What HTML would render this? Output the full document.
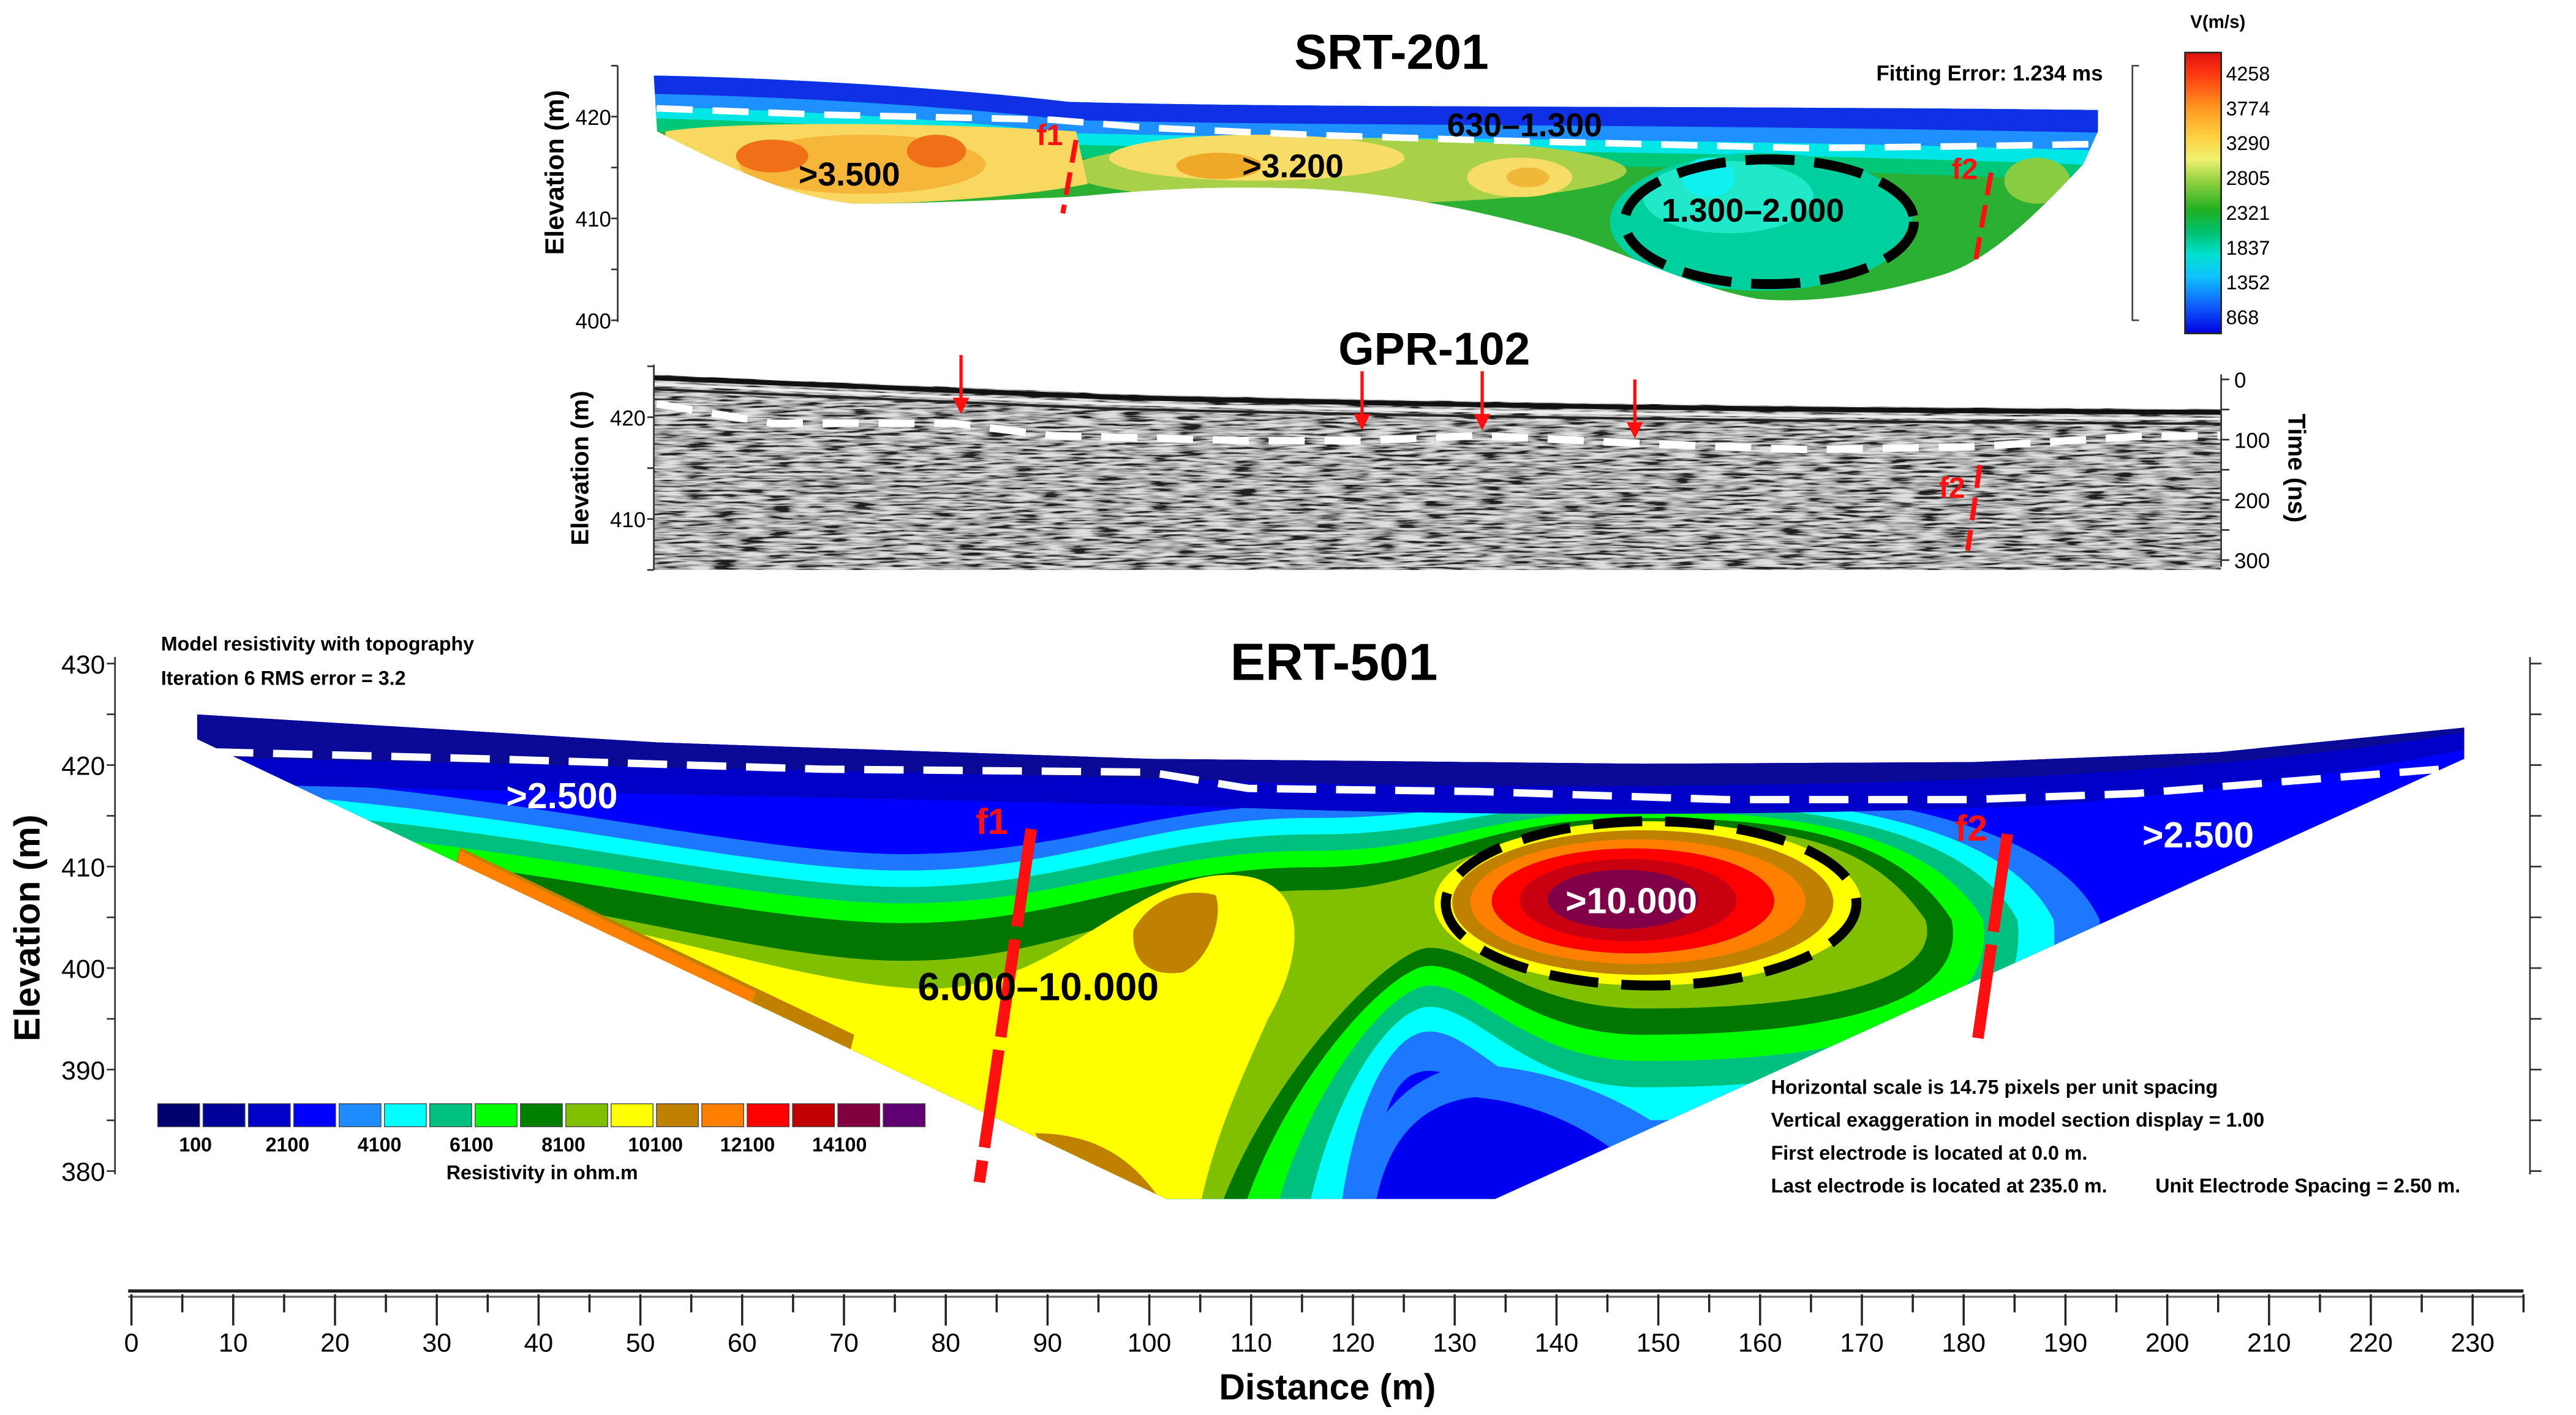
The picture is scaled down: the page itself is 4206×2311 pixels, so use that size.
<!DOCTYPE html>
<html><head><meta charset="utf-8"><title>SRT / GPR / ERT sections</title>
<style>
html,body{margin:0;padding:0;background:#fff;}
svg{display:block;}
text{font-family:"Liberation Sans Narrow","Liberation Sans",sans-serif;}
.b{font-weight:bold;}
</style></head>
<body>
<svg id="fig" xmlns="http://www.w3.org/2000/svg" width="4206" height="2311" viewBox="0 0 1568 861.5" preserveAspectRatio="none">
<defs>
  <clipPath id="ertClip"><path d="M120,435 L400,452 L700,462 L1000,465 L1200,464 L1350,458 L1500,443 L1500,462 L910,730 L710,730 L120,450 Z"/></clipPath>
  <clipPath id="srtClip"><path d="M398,46 C500,48 600,56 650,62 C800,66 1000,64 1277,67 L1277,80 L1268,100 C1240,130 1210,160 1180,168 C1140,180 1100,185 1070,182 C1030,175 980,150 950,142 C900,128 850,118 800,115 C720,112 680,118 650,120 C600,122 560,124 520,124 C480,120 440,100 410,85 L400,80 Z"/></clipPath>
  <clipPath id="gprClip"><path d="M398,228 C500,233 600,236 680,240 C900,245 1100,248 1352,249 L1352,347 L398,347 Z"/></clipPath>
  <filter id="noise" x="0" y="0" width="100%" height="100%">
    <feTurbulence type="fractalNoise" baseFrequency="0.06 0.7" numOctaves="2" seed="4"/>
    <feColorMatrix type="matrix" values="3 0 0 0 -1  3 0 0 0 -1  3 0 0 0 -1  0 0 0 0 1"/>
  </filter>
  <linearGradient id="vgrad" x1="0" y1="0" x2="0" y2="1">
    <stop offset="0" stop-color="#e01010"/>
    <stop offset="0.08" stop-color="#ff3a10"/>
    <stop offset="0.2" stop-color="#ff9a20"/>
    <stop offset="0.3" stop-color="#ffd040"/>
    <stop offset="0.38" stop-color="#f0f070"/>
    <stop offset="0.46" stop-color="#90d040"/>
    <stop offset="0.56" stop-color="#20b020"/>
    <stop offset="0.64" stop-color="#00c070"/>
    <stop offset="0.72" stop-color="#00e0d0"/>
    <stop offset="0.8" stop-color="#10c0ff"/>
    <stop offset="0.9" stop-color="#1060ff"/>
    <stop offset="1" stop-color="#0000e0"/>
  </linearGradient>
</defs>

<!-- ================= SRT ================= -->
<g id="srt">
  <text class="b" x="847" y="42" font-size="30" text-anchor="middle">SRT-201</text>
  <text x="1280" y="49" font-size="13" text-anchor="end" class="b">Fitting Error: 1.234 ms</text>
  <g clip-path="url(#srtClip)">
    <rect x="390" y="30" width="900" height="170" fill="#2cb034"/>
    <path d="M390,30 L1290,30 L1290,111 C1000,98 800,100 650,96 C600,90 500,82 390,80 Z" fill="#00c878"/>
    <path d="M390,30 L1290,30 L1290,101 C1000,90 800,92 650,88 C600,82 500,74 390,72 Z" fill="#00e6e6"/>
    <path d="M390,30 L1290,30 L1290,92 C1000,83 800,85 650,81 C600,75 500,67 390,65 Z" fill="#1e90ff"/>
    <path d="M390,30 L1290,30 L1290,81 C1000,75 800,77 650,73 C600,67 500,59 390,57 Z" fill="#1030e6"/>
    <ellipse cx="820" cy="104" rx="170" ry="20" fill="#a8d048"/>
    <path d="M405,80 C440,74 560,74 655,80 L662,112 C620,120 560,124 520,124 C470,120 430,100 405,86 Z" fill="#f8d860"/>
    <ellipse cx="525" cy="100" rx="75" ry="18" fill="#f6b63a"/>
    <ellipse cx="470" cy="95" rx="22" ry="10" fill="#f07018"/>
    <ellipse cx="570" cy="92" rx="18" ry="10" fill="#f07018"/>
    <ellipse cx="765" cy="96" rx="90" ry="14" fill="#f8dc68"/>
    <ellipse cx="742" cy="101" rx="26" ry="8" fill="#f0a828"/>
    <ellipse cx="925" cy="108" rx="32" ry="12" fill="#f8dc68"/>
    <ellipse cx="930" cy="108" rx="13" ry="6" fill="#f0b838"/>
    <ellipse cx="1072" cy="135" rx="92" ry="42" fill="#00d0a0"/>
    <ellipse cx="1052" cy="120" rx="52" ry="22" fill="#20e8c8"/>
    <ellipse cx="1040" cy="108" rx="16" ry="12" fill="#10f0f0"/>
    <ellipse cx="1240" cy="110" rx="20" ry="14" fill="#88cc40"/>
  </g>
  <g id="srtOver"></g>
  <text class="b" x="517" y="113" font-size="20" text-anchor="middle">&gt;3.500</text>
  <text class="b" x="787" y="108" font-size="20" text-anchor="middle">&gt;3.200</text>
  <text class="b" x="928" y="83" font-size="20" text-anchor="middle">630–1.300</text>
  <text class="b" x="1067" y="135" font-size="20" text-anchor="middle">1.300–2.000</text>
  <ellipse cx="1077" cy="135" rx="88" ry="38" fill="none" stroke="#000" stroke-width="6" stroke-dasharray="30 12"/>
  <text class="b" x="1350" y="17" font-size="11" text-anchor="middle">V(m/s)</text>
  <rect x="1330" y="32" width="22" height="171" fill="url(#vgrad)" stroke="#222" stroke-width="1"/>
  <path d="M1302,40 L1298,40 L1298,195 L1302,195" fill="none" stroke="#444" stroke-width="1"/>
</g>

<!-- ================= GPR ================= -->
<g id="gpr">
  <text class="b" x="873" y="222" font-size="28" text-anchor="middle">GPR-102</text>
  <g clip-path="url(#gprClip)">
    <rect x="398" y="220" width="954" height="130" fill="#808080"/>
    <rect x="398" y="220" width="954" height="130" filter="url(#noise)" opacity="0.75"/>
    <path d="M398,230 C500,235 600,238 680,242 C900,247 1100,250 1352,251" fill="none" stroke="#111" stroke-width="3"/>
    <path d="M398,234 C500,239 600,242 680,246 C900,251 1100,254 1352,255" fill="none" stroke="#eee" stroke-width="1.5"/>
    <path d="M398,237 C500,242 600,245 680,249 C900,254 1100,257 1352,258" fill="none" stroke="#222" stroke-width="1.5"/>
  </g>
  <text class="b" x="1393" y="285" font-size="15" text-anchor="middle" transform="rotate(90 1393 285)">Time (ns)</text>
</g>

<!-- ================= ERT ================= -->
<g id="ert">
  <text class="b" x="812" y="414" font-size="32" text-anchor="middle">ERT-501</text>
  <text class="b" x="98" y="396" font-size="12">Model resistivity with topography</text>
  <text class="b" x="98" y="417" font-size="12">Iteration 6 RMS error = 3.2</text>
  <g clip-path="url(#ertClip)" id="ertSection">
    <rect x="90" y="420" width="1430" height="320" fill="#0000ff"/>
  </g>
  <g id="ertOver"></g>
  <text class="b" x="342" y="492" font-size="22" fill="#fff" text-anchor="middle">&gt;2.500</text>
  <text class="b" x="1338" y="516" font-size="22" fill="#fff" text-anchor="middle">&gt;2.500</text>
  <text class="b" x="632" y="609" font-size="24" text-anchor="middle">6.000–10.000</text>
  <text class="b" x="993" y="556" font-size="22" fill="#fff" text-anchor="middle">&gt;10.000</text>
  <ellipse cx="1005" cy="550" rx="125" ry="50" fill="none" stroke="#000" stroke-width="6" stroke-dasharray="30 14"/>
  <g id="legend"></g>
  <text class="b" x="330" y="718" font-size="12" text-anchor="middle">Resistivity in ohm.m</text>
  <text class="b" x="1078" y="666" font-size="12">Horizontal scale is 14.75 pixels per unit spacing</text>
  <text class="b" x="1078" y="686" font-size="12">Vertical exaggeration in model section display = 1.00</text>
  <text class="b" x="1078" y="706" font-size="12">First electrode is located at 0.0  m.</text>
  <text class="b" x="1078" y="726" font-size="12">Last electrode is located at 235.0 m.</text>
  <text class="b" x="1312" y="726" font-size="12">Unit Electrode Spacing = 2.50 m.</text>
</g>
<g id="axes"></g>
<text class="b" x="808" y="852" font-size="22" text-anchor="middle">Distance (m)</text>
</svg>

<script>
// ---------- data ----------
const distTicks = [0,10,20,30,40,50,60,70,80,90,100,110,120,130,140,150,160,170,180,190,200,210,220,230];
const ertElevTicks = [430,420,410,400,390,380];
const srtElevTicks = [420,410,400];
const gprElevTicks = [420,410];
const gprTimeTicks = [0,100,200,300];
const velTicks = ["4258","3774","3290","2805","2321","1837","1352","868"];
const legendLabels = ["100","2100","4100","6100","8100","10100","12100","14100"];
const legendColors = ["#00006e","#00009a","#0000c8","#0000ff","#1e8cff","#00ffff","#00c080","#00ff00","#008000","#80c000","#ffff00","#c08000","#ff8000","#ff0000","#c00000","#800040","#600070"];
// interface lines (distance m, elevation m)
const ertIfaceD = [8.1,35.5,67.8,100,109.7,132.3,156.5,180.8,196.9,213,226.8];
const ertIfaceE = [421.3,420.6,419.6,419.3,417.7,417.4,416.6,416.6,417.2,418.5,419.6];
const srtIfaceD = [51.6,67.8,90.4,100,116.2,132.3,148.5,164.6,180.8,193.2];
const srtIfaceE = [420.8,420.2,419.7,418.9,418.2,417.7,417.3,416.9,417.1,417.3];
const gprIfaceD = [51.6,62.9,80.7,90.4,109.7,121,132.3,148.5,164.6,180.8,196.9,205.3];
const gprIfaceE = [421.3,419.4,419.4,418.2,417.7,417.7,418.2,417.4,416.8,417.1,418.1,418.2];
// faults [d1,e1,d2,e2]
const ertF1 = [88.4,413.7,83.3,378.9];
const ertF2 = [184.3,413.2,181.4,393.1];
const srtF1 = [92.8,417.7,91.5,410.5];
const srtF2 = [182.7,414.5,181.2,406];
const gprF2 = [181.6,415.3,180.4,406.9];
const arrowD = [81.5,120.9,132.7,147.7];
const arrowE = [420.3,418.7,418.7,417.9];

// ---------- scales ----------
const X = d => 80 + d*6.196;
const YE = e => 404 + (430-e)*6.18;
const YS = e => 71 + (420-e)*6.2;
const YG = e => 254 + (420-e)*6.2;
const YT = t => 231 + t*0.3667;
const NS = "http://www.w3.org/2000/svg";
function mk(tag, attrs, parent){ const el=document.createElementNS(NS,tag); for(const k in attrs) el.setAttribute(k,attrs[k]); parent.appendChild(el); return el; }
const axes = document.getElementById('axes');

// ---------- ERT contour layers (image-like geometry) ----------
const sec = document.getElementById('ertSection');
function lvl(p){ const [yl,yd,yp,ye,xR,yU,ya,xb]=p;
 return `M100,${yl} C300,${yl+8} 450,${yd} 550,${yd} C650,${yd} 700,${yp} 800,${yp} C880,${yp} 900,${ye} 1000,${ye} C1100,${ye} ${xR-30},${ye+15} ${xR},560 C${xR+10},${yU-20} 1120,${yU} 1000,${yU} C930,${yU} 900,${ya} 870,${ya} C840,${ya} ${xb},700 ${xb},800 L60,800 Z`; }
const layers = [
 ["#1e78ff",[470,520,490,478,1278,702,652,835]],
 ["#00ffff",[480,530,498,484,1250,682,628,812]],
 ["#00c080",[490,540,508,489,1228,662,613,790]],
 ["#00ff00",[500,550,518,494,1207,646,600,768]],
 ["#007800",[510,562,528,498,1188,630,588,746]],
 ["#80c000",[522,585,542,502,1172,614,577,730]]
];
layers.forEach(l=>{ mk('path',{d:lvl(l[1]),fill:l[0]},sec); });
mk('path',{d:"M200,538 C350,546 470,598 560,602 C640,604 680,540 740,533 C800,528 795,580 772,620 C745,680 727,720 722,800 L100,800 Z",fill:"#ffff00"},sec);
mk('path',{d:"M280,516 L520,630 L516,646 L275,535 Z",fill:"#c08000"},sec);
mk('path',{d:"M280,518 L460,604 L456,614 L278,532 Z",fill:"#ff8000"},sec);
mk('path',{d:"M630,690 C660,690 690,700 712,740 L660,740 Z",fill:"#c08000"},sec);
mk('path',{d:"M690,566 C700,548 720,540 740,545 C745,560 735,585 720,592 C700,595 688,585 690,566 Z",fill:"#c08000"},sec);
[["#ffff00",130,50],["#c08000",116,44],["#ff8000",102,38],["#ff0000",86,32],["#c80010",66,25],["#800048",46,18]].forEach((r,i)=>{
  mk('ellipse',{cx:1003-i*3,cy:550-i*0.5,rx:r[1],ry:r[2],fill:r[0]},sec);
});
mk('path',{d:"M820,740 C828,690 850,655 895,648 C945,650 990,668 1030,700 L1000,745 Z",fill:"#1e78ff"},sec);
mk('path',{d:"M836,740 C842,700 860,672 898,668 C940,672 975,690 1005,720 L990,745 Z",fill:"#0000f0"},sec);
mk('path',{d:"M90,420 L1520,420 L1520,452 C1450,468 1350,482 1250,490 C1100,497 900,497 760,492 C600,487 300,482 90,476 Z",fill:"#0000c8"},sec);
mk('path',{d:"M90,420 L1520,420 L1520,442 C1450,456 1350,466 1250,472 C1100,480 900,480 760,476 C600,470 300,466 90,460 Z",fill:"#0a0a96"},sec);

// ---------- helpers ----------
function line(ds,es,ys,parent,attrs,name){
  const pts = ds.map((d,i)=>X(d).toFixed(1)+','+ys(es[i]).toFixed(1)).join(' ');
  const el = mk('polyline',Object.assign({points:pts,fill:'none'},attrs),parent);
  
  
  return el;
}
function fault(f,ys,parent,w,dash,name){
  const el = mk('line',{x1:X(f[0]),y1:ys(f[1]),x2:X(f[2]),y2:ys(f[3]),stroke:'#ff1010','stroke-width':w,'stroke-dasharray':dash},parent);
  
  
}
function label(x,y,txt,size,parent,name,anchor,fill){
  const t = mk('text',{x:x,y:y,'font-size':size,'text-anchor':anchor||'middle',fill:fill||'#000','class':'b'},parent);
  t.textContent = txt;
  
  
  return t;
}

// ---------- ERT overlays ----------
const ertOver = document.getElementById('ertOver');
line(ertIfaceD,ertIfaceE,YE,ertOver,{stroke:'#fff','stroke-width':4.5,'stroke-dasharray':'24 12'},'ert-interface-line');
fault(ertF1,YE,ertOver,7,'60 8','fault-f1-ert');
fault(ertF2,YE,ertOver,7,'60 8','fault-f2-ert');
label(X(ertF1[0])-24,YE(ertF1[1])+3,'f1',22,ertOver,'fault-f1-ert-label','middle','#ff1010');
label(X(ertF2[0])-22,YE(ertF2[1])+4,'f2',22,ertOver,'fault-f2-ert-label','middle','#ff1010');

// ---------- SRT overlays ----------
const srtOver = document.getElementById('srtOver');
line(srtIfaceD,srtIfaceE,YS,srtOver,{stroke:'#fff','stroke-width':4,'stroke-dasharray':'22 12'},'srt-interface-line');
fault(srtF1,YS,srtOver,3,'14 6','fault-f1-srt');
fault(srtF2,YS,srtOver,3,'14 6','fault-f2-srt');
label(X(srtF1[0])-16,YS(srtF1[1])+3,'f1',18,srtOver,'fault-f1-srt-label','middle','#ff1010');
label(X(srtF2[0])-16,YS(srtF2[1])+4,'f2',18,srtOver,'fault-f2-srt-label','middle','#ff1010');

// ---------- GPR overlays ----------
const gpr = document.getElementById('gpr');
line(gprIfaceD,gprIfaceE,YG,gpr,{stroke:'#fff','stroke-width':4.5,'stroke-dasharray':'22 12'},'gpr-interface-line');
fault(gprF2,YG,gpr,3,'14 6','fault-f2-gpr');
label(X(gprF2[0])-17,YG(gprF2[1])+20,'f2',18,gpr,'fault-f2-gpr-label','middle','#ff1010');
arrowD.forEach((d,i)=>{
  const x=X(d), yt=YG(arrowE[i]);
  const l = mk('line',{x1:x,y1:yt-36,x2:x,y2:yt-8,stroke:'#ff1010','stroke-width':2},gpr);
  
  
  const h = mk('polygon',{points:`${x-5},${yt-10} ${x+5},${yt-10} ${x},${yt}`,fill:'#ff1010'},gpr);
  
  
});

// ---------- axes ----------
mk('line',{x1:78,y1:786,x2:1536,y2:786,stroke:'#222','stroke-width':2},axes);
mk('line',{x1:78,y1:789.5,x2:1536,y2:789.5,stroke:'#666','stroke-width':1.2},axes);
for(let d=0; d<=235; d+=5){
  const t = mk('line',{x1:X(d),y1:788,x2:X(d),y2:d%10===0?807:799,stroke:'#222','stroke-width':1.3},axes);
  
  
}
distTicks.forEach(d=>label(X(d),823,String(d),16,axes,'x-tick-label').classList.remove('b'));

mk('line',{x1:70,y1:400,x2:70,y2:715,stroke:'#333','stroke-width':1},axes);
mk('line',{x1:1540,y1:400,x2:1540,y2:715,stroke:'#333','stroke-width':1},axes);
for(let e=380;e<=430;e+=5){
  mk('line',{x1:65,y1:YE(e),x2:70,y2:YE(e),stroke:'#333','stroke-width':1},axes);
  mk('line',{x1:1540,y1:YE(e),x2:1547,y2:YE(e),stroke:'#333','stroke-width':1},axes);
}
ertElevTicks.forEach(e=>label(64,YE(e)+6,String(e),16,axes,'ert-y-tick-label','end').classList.remove('b'));
const yt1 = label(24,565,'Elevation (m)',22,axes,'ert-y-axis-title');
yt1.setAttribute('transform','rotate(-90 24 565)');
yt1.setAttribute('font-family','"Liberation Sans",sans-serif');

mk('line',{x1:376,y1:40,x2:376,y2:196,stroke:'#333','stroke-width':1},axes);
for(let e=400;e<=425;e+=5) mk('line',{x1:372,y1:YS(e),x2:376,y2:YS(e),stroke:'#333','stroke-width':1},axes);
srtElevTicks.forEach(e=>label(372,YS(e)+5,String(e),13,axes,'srt-y-tick-label','end').classList.remove('b'));
const yt2 = label(343,105,'Elevation (m)',16,axes,'srt-y-axis-title');
yt2.setAttribute('transform','rotate(-90 343 105)');
yt2.setAttribute('font-family','"Liberation Sans",sans-serif');
velTicks.forEach((v,i)=>label(1355,49+i*21.2,v,12,axes,'colorbar-tick-label','start').classList.remove('b'));

mk('line',{x1:398,y1:222,x2:398,y2:347,stroke:'#333','stroke-width':1},axes);
for(let e=405;e<=425;e+=5) mk('line',{x1:394,y1:YG(e),x2:398,y2:YG(e),stroke:'#333','stroke-width':1},axes);
gprElevTicks.forEach(e=>label(393,YG(e)+5,String(e),13,axes,'gpr-y-tick-label','end').classList.remove('b'));
const yt3 = label(358,285,'Elevation (m)',15,axes,'gpr-y-axis-title');
yt3.setAttribute('transform','rotate(-90 358 285)');
yt3.setAttribute('font-family','"Liberation Sans",sans-serif');
mk('line',{x1:1352,y1:228,x2:1352,y2:345,stroke:'#333','stroke-width':1},axes);
for(let t=0;t<=300;t+=50) mk('line',{x1:1352,y1:YT(t),x2:1357,y2:YT(t),stroke:'#333','stroke-width':1},axes);
gprTimeTicks.forEach(t=>label(1360,YT(t)+5,String(t),13,axes,'gpr-time-tick-label','start').classList.remove('b'));

// ---------- legend ----------
const lg = document.getElementById('legend');
legendColors.forEach((c,i)=>{
  const r = mk('rect',{x:96+i*27.6,y:672,width:25.5,height:14,fill:c,stroke:'#444','stroke-width':0.5},lg);
  
  
});
legendLabels.forEach((t,i)=>label(119+i*56,701,t,12,lg,'legend-label'));
</script>
</body></html>
